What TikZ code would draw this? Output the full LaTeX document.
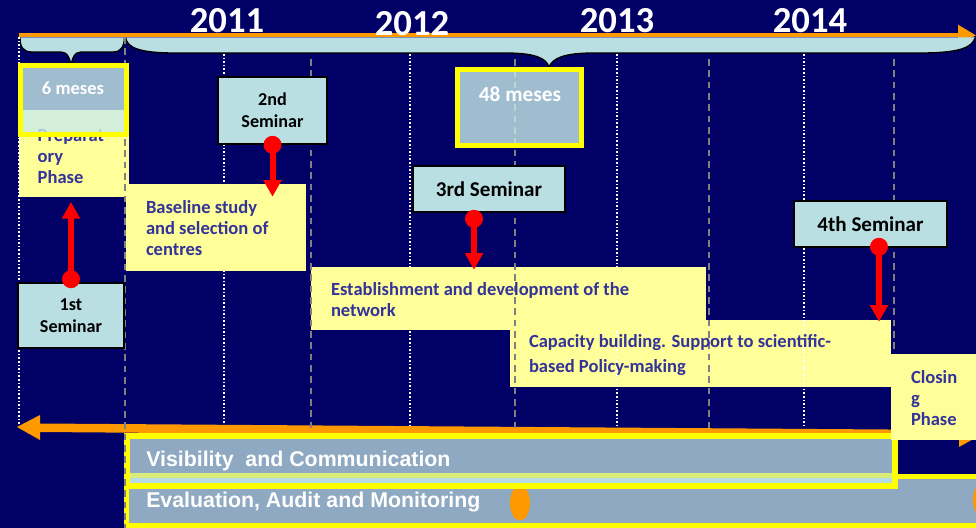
\documentclass[tikz,border=0pt]{standalone}
\usepackage{fontspec}
\setmainfont{Carlito}
\newfontfamily\barfont{Liberation Sans}
\usetikzlibrary{arrows.meta,fit}
\definecolor{bgnavy}{HTML}{000066}
\definecolor{boxyel}{HTML}{FFFF99}
\definecolor{txtblue}{HTML}{333399}
\definecolor{semcyan}{HTML}{B9DFE3}
\definecolor{frameyel}{HTML}{FFFF00}
\definecolor{barblue}{HTML}{8EA9C1}
\definecolor{orng}{HTML}{FF9900}
\definecolor{mesesfill}{HTML}{C9ECEA}
\definecolor{gridgray}{HTML}{808080}
\definecolor{stripegreen}{HTML}{D9EB7A}
\definecolor{stripeblue}{HTML}{B7DCE3}
\begin{document}
\begin{tikzpicture}[x=0.75pt,y=-0.75pt,
  ybox/.style={fill=boxyel, inner sep=0pt},
  ytext/.style={text=txtblue, font=\fontsize{13.9}{15.75}\selectfont\bfseries, align=left, inner sep=0pt, anchor=west},
  seminar/.style={fill=semcyan, draw=black, line width=1.2pt, inner sep=0pt},
  semtext/.style={inner sep=0pt, align=center},
  semsmall/.style={font=\fontsize{13.6}{16.5}\selectfont\bfseries},
  semlarge/.style={font=\fontsize{15.8}{18}\selectfont\bfseries},
  yeartext/.style={text=white, font=\fontsize{27.5}{30}\selectfont\bfseries, inner sep=0pt, anchor=base},
  dotline/.style={white, line width=1.5pt, dash pattern=on 1.2pt off 1.5pt},
  dashline/.style={gridgray, line width=1.5pt, dash pattern=on 5pt off 3.5pt},
  redarrow/.style={red, line width=4.5pt, -{Triangle[width=13pt,length=12.5pt]}},
  mesesframe/.style={draw=frameyel, line width=3.75pt, fill=mesesfill, fill opacity=0.8, draw opacity=1, inner sep=0pt},
  mesestext/.style={text=white, inner sep=0pt},
  bartext/.style={text=white, font=\barfont\fontsize{16}{18}\selectfont\bfseries, inner sep=0pt, anchor=base west},
  barbox/.style={fill=barblue, draw=frameyel, inner sep=0pt},
  bracefill/.style={fill=semcyan},
  braceline/.style={draw=black, line width=1pt},
]
\useasboundingbox (0,0) rectangle (976,528);
\fill[bgnavy] (0,0) rectangle (976,528);

% top timeline arrow
\coordinate (tlstart) at (19,35.3);
\coordinate (tlend) at (976,35.3);
\draw[orng, line width=3pt, -{Triangle[width=15pt,length=13.5pt]}] (tlstart) -- (tlend);

% braces
\fill[bracefill] (20,37.3) .. controls (20,47) and (23,52) .. (32,52) -- (61,52) .. controls (67,52) and (71,58) .. (71,70) .. controls (71,58) and (75,52) .. (81,52) -- (113,52) .. controls (121,52) and (124,47) .. (124.5,37.3) -- cycle;
\draw[braceline] (20,37.3) .. controls (20,47) and (23,52) .. (32,52) -- (61,52) .. controls (67,52) and (71,58) .. (71,70) .. controls (71,58) and (75,52) .. (81,52) -- (113,52) .. controls (121,52) and (124,47) .. (124.5,37.3);
\fill[bracefill] (125.5,37.3) .. controls (127,48) and (140,53) .. (175,53) -- (505,53) .. controls (535,53) and (546,58) .. (549,67) .. controls (553,58) and (564,53) .. (594,53) -- (920,53) .. controls (958,53) and (972,48) .. (975,38) -- (975,37.3) -- cycle;
\draw[braceline] (125.5,37.3) .. controls (127,48) and (140,53) .. (175,53) -- (505,53) .. controls (535,53) and (546,58) .. (549,67) .. controls (553,58) and (564,53) .. (594,53) -- (920,53) .. controls (958,53) and (972,48) .. (975,38);

% years
\node[yeartext] (y2011) at (227,33) {2011};
\node[yeartext] (y2012) at (412,35.5) {2012};
\node[yeartext] (y2013) at (617,33) {2013};
\node[yeartext] (y2014) at (810,33) {2014};

% capacity and preparatory boxes
\node[ybox, fit={(510,320) (891,387)}] (cap) {};
\node[ybox, fit={(19,110) (129,197)}] (pp) {};
\node[ytext] (ppt) at ([shift={(18.7,3)}]pp.west) {Preparat\\ory\\Phase};

% dotted grid lines
\foreach \gx/\gy in {18.5/37, 224/54, 410/54, 617/54, 804/54}
  \draw[dotline] (\gx,\gy) -- (\gx,427);

% baseline and establishment boxes
\node[ybox, fit={(126,184) (306,271)}] (bs) {};
\node[ybox, fit={(311,267) (706,330)}] (est) {};

% bottom double arrow
\fill[orng] (17,427) -- (40,415) -- (40,423.5) -- (959,430) -- (959,418) -- (985,432.5) -- (959,447) -- (959,439) -- (40,432) -- (40,440) -- cycle;

% bottom bars
\node[barbox, line width=3.75pt, fit={(126.5,476.5) (1010,525.5)}] (eval) {};
\fill[orng] (520,503) ellipse (10 and 17.5);
\fill[orng] (983,500) ellipse (10 and 17.5);
\node[barbox, line width=4.1pt, fit={(127,436) (895,486)}] (vis) {};
\fill[stripegreen] (129.7,473) rectangle (892.3,478);
\fill[stripeblue] (129.7,478) rectangle (892.3,483.2);

% dashed grid lines
\draw[dashline] (125,37) -- (125,528);
\foreach \gx in {311, 515, 709, 894}
  \draw[dashline] (\gx,59) -- (\gx,430);

% closing box
\node[ybox, fit={(891,354) (980,440)}] (cls) {};

% meses frames
\node[mesesframe, fit={(20.5,65.5) (126.5,134.5)}] (m6) {};
\node[mesestext, font=\fontsize{13.9}{16}\selectfont\bfseries] (m6t) at (73,88.5) {6 meses};
\node[mesesframe, fit={(457.5,69.5) (581.5,145.5)}] (m48) {};
\node[mesestext, font=\fontsize{16}{18}\selectfont\bfseries] (m48t) at (520,94) {48 meses};

% yellow box texts
\node[ytext] (bst) at ([shift={(20,1)}]bs.west) {Baseline study\\and selection of\\centres};
\node[ytext] (estt) at ([shift={(20,1.5)}]est.west) {Establishment and development of the\\network};
\node[ytext, font=\fontsize{13.9}{18.4}\selectfont\bfseries] (capt) at ([shift={(19,1.5)}]cap.west) {Capacity building. Support to scientific-\\based Policy-making};
\node[ytext] (clst) at ([shift={(20,1.5)}]cls.west) {Closin\\g\\Phase};

% bar texts
\node[bartext] (vist) at (146,466) {Visibility~ and Communication};
\node[bartext] (evalt) at (146,507) {Evaluation, Audit and Monitoring};

% seminars
\node[seminar, fit={(18,283) (124,348)}] (s1) {};
\node[semtext, semsmall] (s1t) at (s1.center) {1st\\Seminar};
\node[seminar, fit={(218,77) (327,144)}] (s2) {};
\node[semtext, semsmall] (s2t) at (s2.center) {2nd\\Seminar};
\node[seminar, fit={(413,166) (565,212)}] (s3) {};
\node[semtext, semlarge] (s3t) at (s3.center) {3rd Seminar};
\node[seminar, fit={(794,201) (947,247)}] (s4) {};
\node[semtext, semlarge] (s4t) at (s4.center) {4th Seminar};

% red connectors
\coordinate (d1) at ([shift={(0,-3)}]s1.north);
\coordinate (d2) at (s2.south);
\coordinate (d3) at ([shift={(-15,6)}]s3.south);
\coordinate (d4) at ([shift={(8.5,-1)}]s4.south);
\draw[redarrow, shorten >=3.5pt] (d1) -- (d1 |- pp.south);
\draw[redarrow, shorten >=-9.75pt] (d2) -- (d2 |- bs.north);
\draw[redarrow, shorten >=-2.25pt] (d3) -- (d3 |- est.north);
\draw[redarrow, shorten >=-1.5pt] (d4) -- (d4 |- cap.north);
\foreach \d in {d1,d2,d3,d4}
  \fill[red] (\d) circle (6.75pt);
\end{tikzpicture}
\end{document}
